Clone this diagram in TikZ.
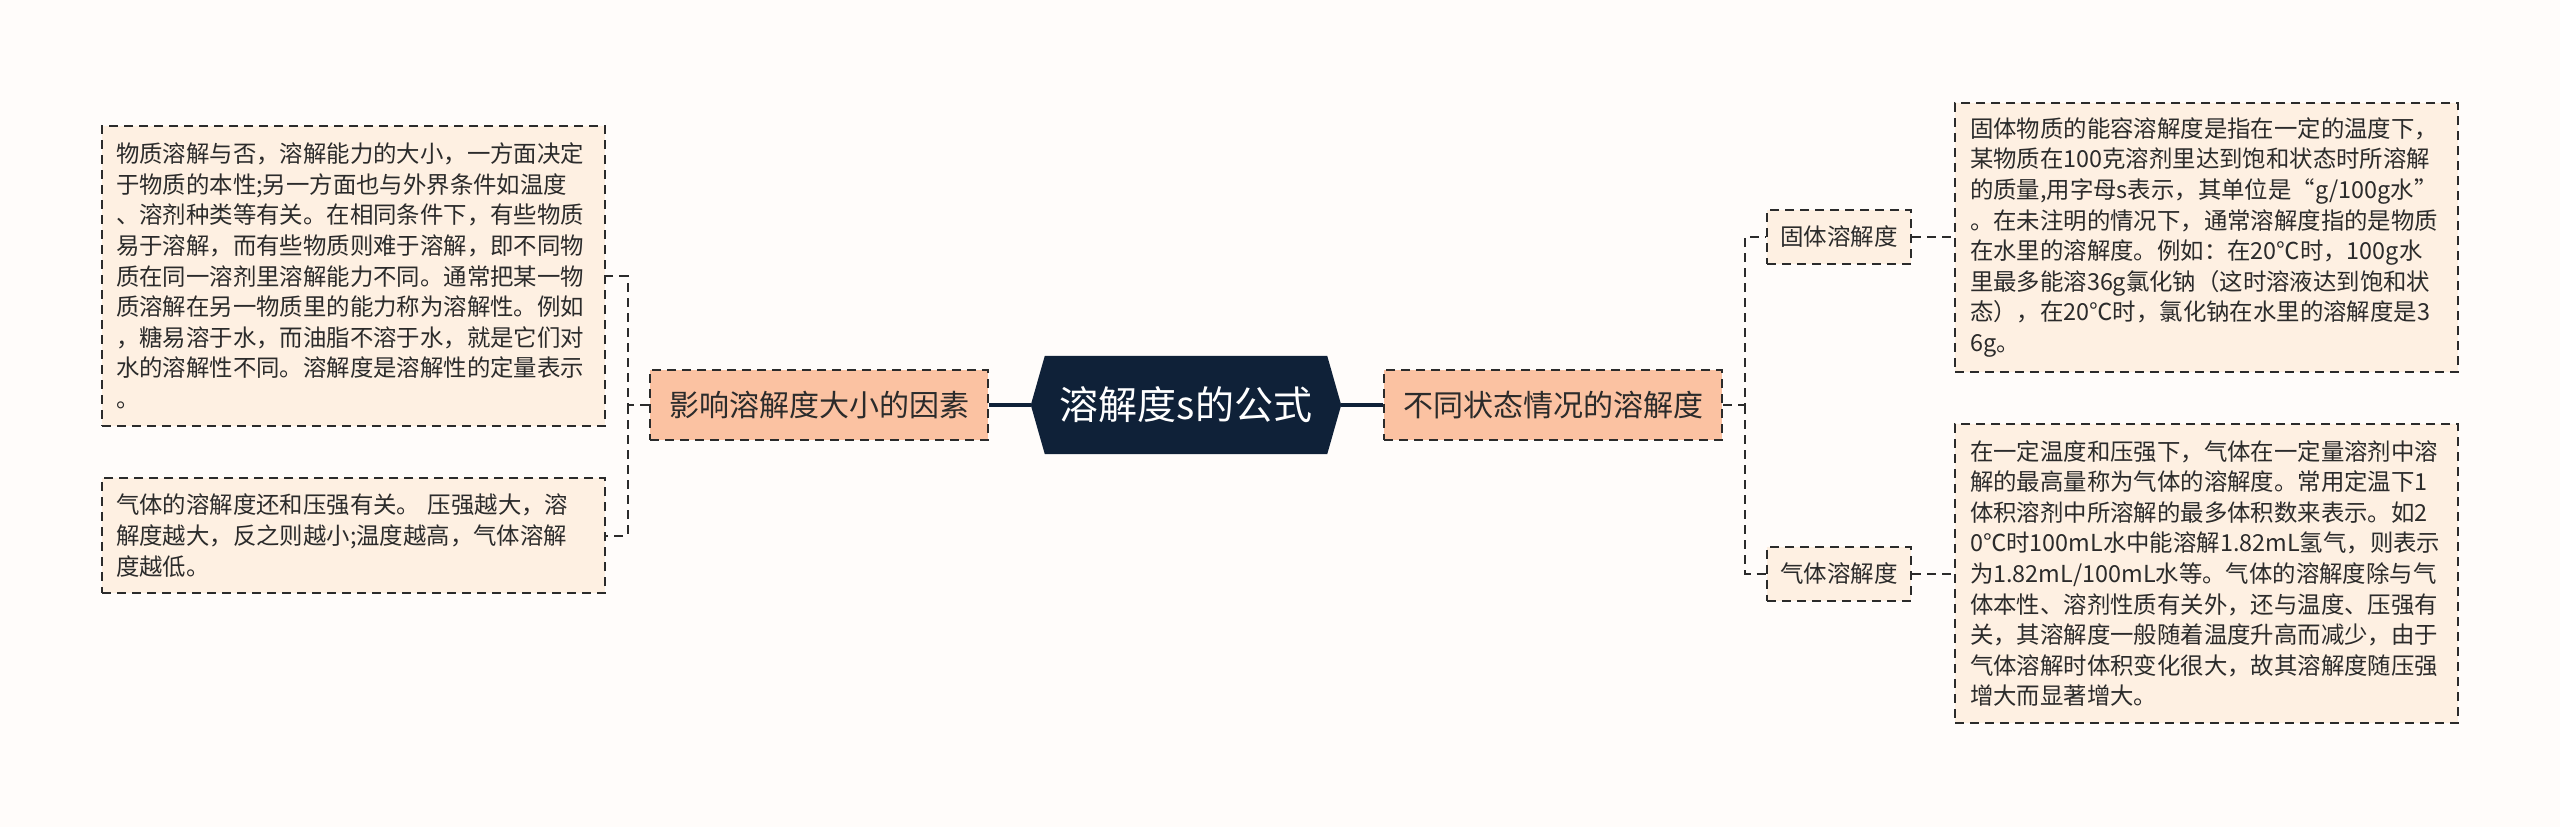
\documentclass[tikz,border=0pt]{standalone}
\usepackage{fontspec}
\setmainfont{Noto Sans CJK SC}
\usetikzlibrary{backgrounds,calc}
\definecolor{bg}{HTML}{FFFCFA}
\definecolor{leaf}{HTML}{FEF0E2}
\definecolor{lvl}{HTML}{FBC2A2}
\definecolor{navy}{HTML}{0F2138}
\definecolor{ink}{HTML}{2B2B2B}
\begin{document}
\begin{tikzpicture}[x=1pt,y=-1pt,
  dashbox/.style={draw=ink, line width=2pt, dash pattern=on 9pt off 6pt, text=ink},
  leafbox/.style={dashbox, fill=leaf, font=\fontsize{23.4}{30.6}\selectfont, align=left, inner ysep=0pt},
  lvlbox/.style={dashbox, fill=lvl, font=\fontsize{30}{30}\selectfont, inner sep=0pt},
  smallbox/.style={dashbox, fill=leaf, font=\fontsize{23.5}{23.5}\selectfont, inner sep=0pt, minimum width=144pt, minimum height=54pt},
  conn/.style={draw=ink, line width=2pt, dash pattern=on 9pt off 6pt},
  mainconn/.style={draw=navy, line width=3.5pt}
]
\useasboundingbox (0,0) rectangle (2560,827);

% centre
\node[text=white, font=\fontsize{39}{39}\selectfont, minimum width=310pt, minimum height=98pt, inner sep=0pt] (c) at (1186,405) {溶解度s的公式};
\begin{scope}[on background layer]
\fill[bg] (0,0) rectangle (2560,827);
\fill[navy] (c.west) -- ([xshift=14pt]c.north west) -- ([xshift=-14pt]c.north east) -- (c.east) -- ([xshift=-14pt]c.south east) -- ([xshift=14pt]c.south west) -- cycle;
\end{scope}

% level 1
\node[lvlbox, minimum width=338pt, minimum height=70pt] (L) at (819,405) {影响溶解度大小的因素};
\node[lvlbox, minimum width=338pt, minimum height=70pt] (R) at (1553,405) {不同状态情况的溶解度};

% left leaves
\node[leafbox, inner xsep=14pt, text width=475pt, minimum height=300pt] (lt) at (353.5,276) {物质溶解与否，溶解能力的大小，一方面决定\\于物质的本性;另一方面也与外界条件如温度\\、溶剂种类等有关。在相同条件下，有些物质\\易于溶解，而有些物质则难于溶解，即不同物\\质在同一溶剂里溶解能力不同。通常把某一物\\质溶解在另一物质里的能力称为溶解性。例如\\，糖易溶于水，而油脂不溶于水，就是它们对\\水的溶解性不同。溶解度是溶解性的定量表示\\。};
\node[leafbox, inner xsep=14pt, text width=475pt, minimum height=115pt] (lb) at (353.5,535.5) {气体的溶解度还和压强有关。 压强越大，溶\\解度越大，反之则越小;温度越高，气体溶解\\度越低。};

% right small nodes
\node[smallbox] (s1) at (1839,237) {固体溶解度};
\node[smallbox] (s2) at (1839,573.5) {气体溶解度};

% right leaves
\node[leafbox, inner xsep=15pt, text width=473pt, minimum height=269pt] (rt) at (2206.5,237.5) {固体物质的能容溶解度是指在一定的温度下，\\某物质在100克溶剂里达到饱和状态时所溶解\\的质量,用字母s表示，其单位是“g/100g水”\\。在未注明的情况下，通常溶解度指的是物质\\在水里的溶解度。例如：在20℃时，100g水\\里最多能溶36g氯化钠（这时溶液达到饱和状\\态），在20℃时，氯化钠在水里的溶解度是3\\6g。};
\node[leafbox, inner xsep=15pt, text width=473pt, minimum height=299pt] (rb) at (2206.5,573.5) {在一定温度和压强下，气体在一定量溶剂中溶\\解的最高量称为气体的溶解度。常用定温下1\\体积溶剂中所溶解的最多体积数来表示。如2\\0℃时100mL水中能溶解1.82mL氢气，则表示\\为1.82mL/100mL水等。气体的溶解度除与气\\体本性、溶剂性质有关外，还与温度、压强有\\关，其溶解度一般随着温度升高而减少，由于\\气体溶解时体积变化很大，故其溶解度随压强\\增大而显著增大。};

% connectors
\coordinate (lj) at (627.5,405);
\coordinate (rj) at (1745,405);
\draw[mainconn] (L.east) -- (c.west);
\draw[mainconn] (c.east) -- (R.west);
\draw[conn] (L.west) -- (lj) |- (lt.east);
\draw[conn] (lj) |- (lb.east);
\draw[conn] (R.east) -- (rj) |- (s1.west);
\draw[conn] (rj) |- (s2.west);
\draw[conn] (s1.east) -- (rt.west |- s1.east);
\draw[conn] (s2.east) -- (rb.west |- s2.east);
\end{tikzpicture}
\end{document}
